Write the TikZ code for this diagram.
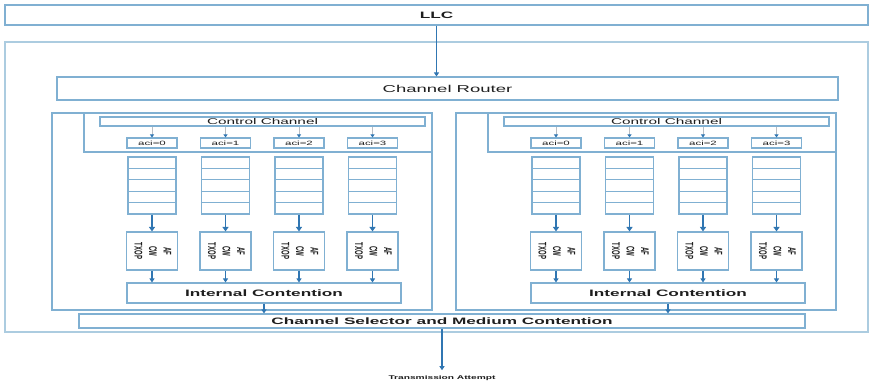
\documentclass[tikz,border=0pt]{standalone}
\usepackage{fontspec}
\setmainfont{Liberation Sans}
\usepackage{graphicx}
\usetikzlibrary{arrows.meta,calc}

\definecolor{boxblue}{RGB}{128,176,210}
\definecolor{outerblue}{RGB}{172,204,224}
\definecolor{arrowblue}{RGB}{48,118,178}
\definecolor{feedgrey}{RGB}{185,190,195}
\definecolor{ink}{RGB}{30,30,30}

% horizontally widened lettering used throughout the figure
\newcommand\wtext[1]{\scalebox{1.85}[1]{#1}}

\begin{document}
\begin{tikzpicture}[x=1pt,y=-1pt,
  box/.style={draw=boxblue, line width=1.1pt, rectangle, inner sep=0pt, text=ink},
  outer/.style={draw=outerblue, line width=1.1pt, rectangle, inner sep=0pt},
  panelline/.style={draw=boxblue, line width=1.1pt},
  rowline/.style={draw=boxblue, line width=0.9pt},
  flow/.style={draw=arrowblue, line width=1.2pt, -{Triangle[width=5pt,length=4pt]}},
  thickflow/.style={draw=arrowblue, line width=1.6pt, -{Triangle[width=6pt,length=4.5pt]}},
  feed/.style={draw=feedgrey, line width=0.6pt, -{Triangle[width=4pt,length=3pt,color=arrowblue]}},
  bigtext/.style={font=\fontsize{10}{12}\selectfont},
  boldtext/.style={font=\fontsize{9.3}{11}\selectfont\bfseries},
  cctext/.style={font=\fontsize{8.3}{10}\selectfont},
  acitext/.style={font=\fontsize{6.2}{7}\selectfont},
  partext/.style={font=\fontsize{6}{7.8}\selectfont\bfseries},
]
\useasboundingbox (0,0) rectangle (874,386);

% upper layer and the MAC enclosure
\node[box, boldtext, minimum width=863, minimum height=20] (llc) at (436.5,15) {\wtext{LLC}};
\node[outer, minimum width=863, minimum height=290] (mac) at (436.5,187) {};
\node[box, bigtext, minimum width=781, minimum height=23] (router) at (447.5,88.5) {\wtext{Channel Router}};
\draw[flow] (llc.south) -- (llc.south |- router.north);

% shared selector and the final output
\node[box, boldtext, minimum width=726, minimum height=14] (sel) at (442,321) {\wtext{Channel Selector and Medium Contention}};
\node[text=ink, font=\fontsize{5.5}{6}\selectfont\bfseries, inner sep=2pt] (tx) at (442,378) {\wtext{Transmission Attempt}};
\draw[flow, shorten >=3pt] (sel.south) -- (sel.south |- tx.north);

% two identical channel blocks
\foreach \side/\dx in {L/0, R/404}{
  \node[box, minimum width=380, minimum height=197] (\side-panel) at ({\dx+242},211.5) {};
  \draw[panelline] ({\dx+84},113) -- ({\dx+84},152) -- ({\dx+432},152);
  \node[box, cctext, minimum width=325, minimum height=9] (\side-cc) at ({\dx+262.5},121.5) {\wtext{Control Channel}};
  \node[box, boldtext, minimum width=274, minimum height=20] (\side-ic) at ({\dx+264},293) {\wtext{Internal Contention}};
  \draw[flow] (\side-ic.south) -- (\side-ic.south |- sel.north);
  \foreach \i/\cx in {0/152, 1/225.5, 2/299, 3/372.5}{
    \node[box, acitext, minimum width=50, minimum height=10] (\side-aci\i) at ({\dx+\cx},143) {\wtext{aci=\i}};
    \draw[feed] (\side-aci\i.north |- \side-cc.south) -- (\side-aci\i.north);
    \node[box, minimum width=48, minimum height=57] (\side-q\i) at ({\dx+\cx},185.5) {};
    \foreach \k in {1,...,4}{
      \draw[rowline] ($(\side-q\i.north west)!\k/5!(\side-q\i.south west)$) -- ($(\side-q\i.north east)!\k/5!(\side-q\i.south east)$);
    }
    \node[box, partext, minimum width=51, minimum height=38] (\side-par\i) at ({\dx+\cx},251)
      {\wtext{\rotatebox{-90}{\begin{tabular}{@{}c@{}}AF\\CW\\TXOP\end{tabular}}}};
    \draw[thickflow] (\side-q\i.south) -- (\side-par\i.north);
    \draw[flow] (\side-par\i.south) -- (\side-par\i.south |- \side-ic.north);
  }
}
\end{tikzpicture}
\end{document}
